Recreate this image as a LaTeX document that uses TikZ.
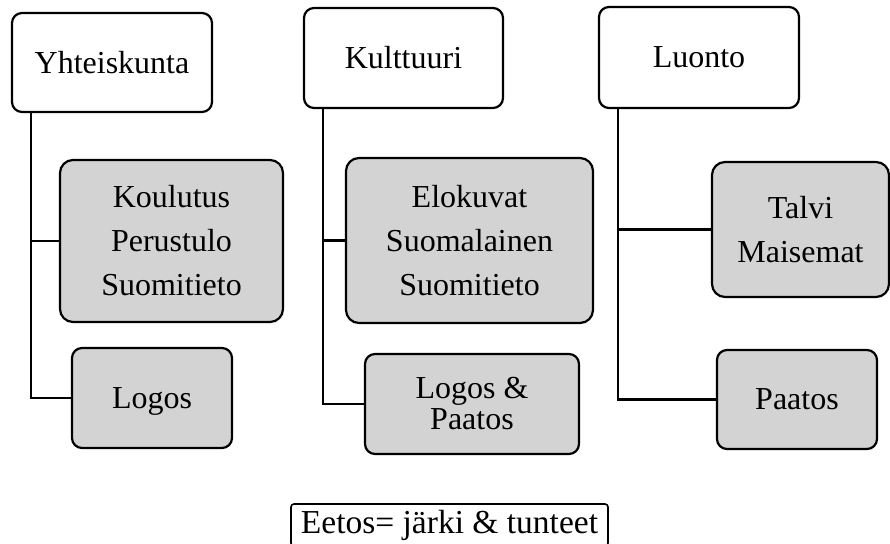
\documentclass[tikz,border=0pt]{standalone}
\usepackage{fontspec}
\setmainfont{Liberation Serif}
\definecolor{boxgray}{RGB}{211,211,211}
\tikzset{
  topic/.style={draw=black, line width=2.2pt, fill=white, rounded corners=10pt,
    inner sep=0pt, align=center, font=\fontsize{32}{44}\selectfont},
  item/.style={draw=black, line width=2.2pt, fill=boxgray, rounded corners=13pt,
    inner sep=0pt, align=center, font=\fontsize{32}{44}\selectfont},
  tight/.style={font=\fontsize{32}{31}\selectfont},
  note/.style={draw=black, line width=1.6pt, rounded corners=3pt,
    inner sep=0pt, font=\fontsize{33.5}{36}\selectfont},
  link/.style={draw=black, line width=2.2pt}
}
\begin{document}
\begin{tikzpicture}[x=1pt, y=-1pt]
  \useasboundingbox (0,0) rectangle (890,543);

  % top-level topics
  \node[topic, minimum width=200pt, minimum height=99pt]  (yht) at (112,62.5)   {Yhteiskunta};
  \node[topic, minimum width=199pt, minimum height=100pt] (kul) at (403.5,58)   {Kulttuuri};
  \node[topic, minimum width=200pt, minimum height=101pt] (luo) at (699,57.5)   {Luonto};

  % grey detail boxes
  \node[item, minimum width=223pt, minimum height=162pt] (kou) at (171.5,241)   {Koulutus\\Perustulo\\Suomitieto};
  \node[item, minimum width=247pt, minimum height=165pt] (elo) at (469.5,240.5) {Elokuvat\\Suomalainen\\Suomitieto};
  \node[item, minimum width=177pt, minimum height=135pt] (tal) at (800.5,229.5) {Talvi\\Maisemat};

  \node[item, rounded corners=10pt, text depth=0pt, minimum width=160pt, minimum height=100pt] (log) at (152,398) {Logos};
  \node[item, tight, rounded corners=10pt, minimum width=214pt, minimum height=100pt] (lp) at (472,404) {Logos \&\\Paatos};
  \node[item, rounded corners=10pt, minimum width=160pt, minimum height=99pt]  (paa) at (797,399.5) {Paatos};

  % note at the bottom
  \node[note, minimum width=317pt, minimum height=42pt] (eet) at (449.5,525) {Eetos= järki \& tunteet};

  % trunks dropping from each topic
  \coordinate (ty) at ([xshift=20pt]yht.south west);
  \coordinate (tk) at ([xshift=20pt]kul.south west);
  \coordinate (tl) at ([xshift=20pt]luo.south west);

  \draw[link] (ty) |- (log.west);
  \draw[link] (kou.west) -- (kou.west -| ty);
  \draw[link] (tk) |- (lp.west);
  \draw[link] (elo.west) -- (elo.west -| tk);
  \draw[link] (tl) |- (paa.west);
  \draw[link] (tal.west) -- (tal.west -| tl);
\end{tikzpicture}
\end{document}
